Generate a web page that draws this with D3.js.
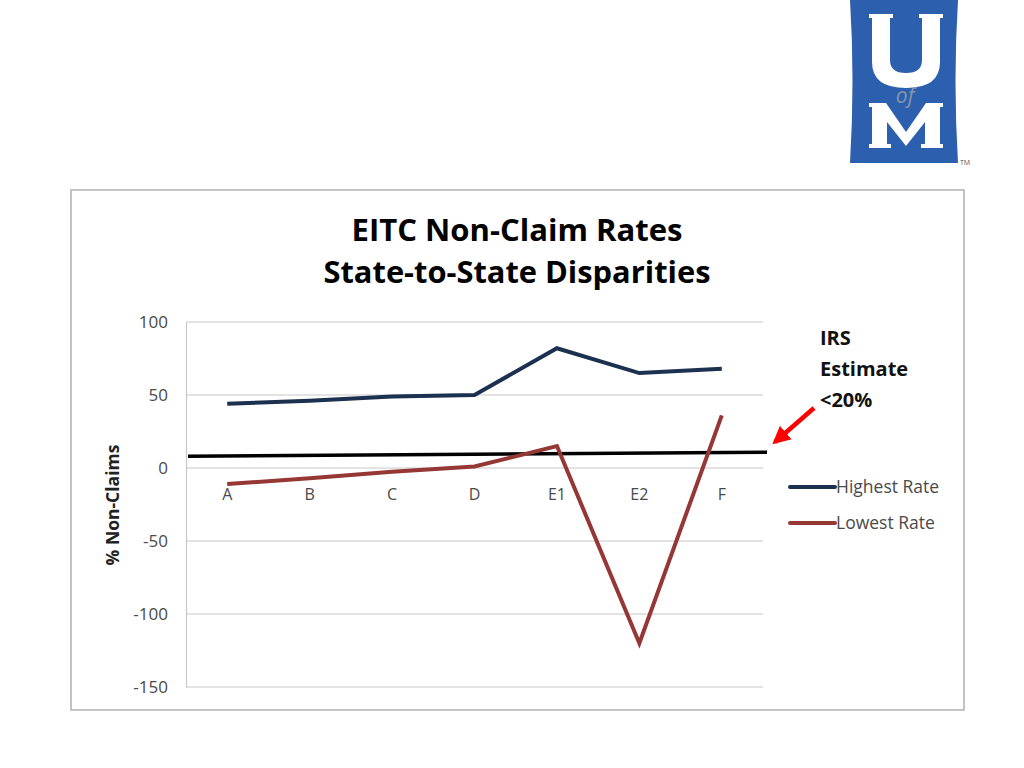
<!DOCTYPE html>
<html>
<head>
<meta charset="utf-8">
<script src="https://cdn.jsdelivr.net/npm/d3@7"></script>
<style>
  html, body { margin: 0; padding: 0; background: #fff; }
  svg { display: block; }
</style>
</head>
<body>
<svg id="chart" width="1024" height="768"></svg>
<script>
// ---- data ----
const categories = ["A", "B", "C", "D", "E1", "E2", "F"];
const highestRate = [44, 46, 49, 50, 82, 65, 68];
const lowestRate = [-11, -7, -2.5, 1, 15, -120, 36];
const irsLine = [8, 10.8];          // value at left end, right end of plot
const yTicks = [100, 50, 0, -50, -100, -150];
const titleLines = ["EITC Non-Claim Rates", "State-to-State Disparities"];
const seriesNames = ["Highest Rate", "Lowest Rate"];
const annotationLines = ["IRS", "Estimate", "<20%"];

const svg = d3.select("#chart");
const font = "'Open Sans', 'Liberation Sans', sans-serif";

// ---- logo ----
const logo = svg.append("g");
logo.append("path")
  .attr("d", "M850,0 H958 Q953,80 958,163 H850 Q855,80 850,0 Z")
  .attr("fill", "#2c5fae");
logo.append("path")
  .attr("d", "M869,14 H893 V18 H890 V60 Q890,73 906,73 Q922,73 922,60 V18 H919 V14 H943 V18 H940 V62 Q940,88 906,88 Q872,88 872,62 V18 H869 Z")
  .attr("fill", "#fff");
logo.append("path")
  .attr("d", "M869,103 H886 L906,132 L926,103 H943 V107 H940 V144 H943 V148 H921 V144 H925 V122 L906,146 L887,122 V144 H891 V148 H869 V144 H872 V107 H869 Z")
  .attr("fill", "#fff");
logo.append("text").attr("x", 905).attr("y", 103)
  .attr("text-anchor", "middle").attr("font-family", font)
  .attr("font-style", "italic").attr("font-size", 21).attr("fill", "#8796aa").text("of");
logo.append("text").attr("x", 960).attr("y", 165)
  .attr("font-family", font).attr("font-size", 7).attr("fill", "#555").text("TM");

// ---- chart frame ----
svg.append("rect").attr("x", 71).attr("y", 190).attr("width", 893).attr("height", 520)
  .attr("fill", "#fff").attr("stroke", "#b0b0b0").attr("stroke-width", 1.5);

// ---- title ----
const titleWidths = [331, 387];
titleLines.forEach((t, i) => {
  svg.append("text")
    .attr("x", 517).attr("y", 241 + i * 42)
    .attr("text-anchor", "middle")
    .attr("font-family", font).attr("font-weight", "bold")
    .attr("font-size", 30).attr("fill", "#000")
    .attr("textLength", titleWidths[i]).attr("lengthAdjust", "spacingAndGlyphs")
    .text(t);
});

// ---- scales ----
const plot = { left: 186, right: 763, top: 322, bottom: 687 };
const x = d3.scaleBand().domain(categories).range([plot.left, plot.right]);
const xc = d => x(d) + x.bandwidth() / 2;
const y = d3.scaleLinear().domain([-150, 100]).range([plot.bottom, plot.top]);

// gridlines
svg.append("g").selectAll("line").data(yTicks).join("line")
  .attr("x1", plot.left).attr("x2", plot.right)
  .attr("y1", d => y(d)).attr("y2", d => y(d))
  .attr("stroke", "#c8c8c8").attr("stroke-width", 1.2);

// y axis
const yAxis = svg.append("g").attr("transform", `translate(${plot.left},0)`)
  .call(d3.axisLeft(y).tickValues(yTicks).tickSize(0).tickPadding(18)
    .tickFormat(d => String(d)));
yAxis.select(".domain").attr("stroke", "#c8c8c8").attr("stroke-width", 1.2);
yAxis.selectAll("text").attr("font-family", font).attr("font-size", 17).attr("fill", "#4a4a4a");

// x axis labels (at zero line)
const xAxis = svg.append("g").attr("transform", `translate(0,${y(0)})`)
  .call(d3.axisBottom(x).tickSize(0).tickPadding(21));
xAxis.select(".domain").remove();
xAxis.selectAll("text").attr("font-family", font).attr("font-size", 16).attr("fill", "#4a4a4a");

// y label
svg.append("text")
  .attr("transform", "translate(119,505) rotate(-90)")
  .attr("text-anchor", "middle")
  .attr("font-family", font).attr("font-weight", "bold").attr("font-size", 17.5)
  .attr("fill", "#222").text("% Non-Claims");

// IRS line
svg.append("line")
  .attr("x1", 188).attr("x2", 767)
  .attr("y1", y(irsLine[0])).attr("y2", y(irsLine[1]))
  .attr("stroke", "#000").attr("stroke-width", 3.5);

// series
const line = d3.line().x((d, i) => xc(categories[i])).y(d => y(d));
const seriesColors = ["#1c3050", "#953735"];
[highestRate, lowestRate].forEach((s, i) => {
  svg.append("path").datum(s).attr("d", line)
    .attr("fill", "none").attr("stroke", seriesColors[i])
    .attr("stroke-width", 4).attr("stroke-linejoin", "miter");
});

// legend
seriesNames.forEach((n, i) => {
  const ly = 487 + i * 36;
  svg.append("line").attr("x1", 790).attr("x2", 835).attr("y1", ly).attr("y2", ly)
    .attr("stroke", seriesColors[i]).attr("stroke-width", 4).attr("stroke-linecap", "round");
  svg.append("text").attr("x", 836).attr("y", ly + 6)
    .attr("font-family", font).attr("font-size", 17.5).attr("fill", "#4a4a4a").text(n);
});

// annotation
annotationLines.forEach((t, i) => {
  svg.append("text").attr("x", 820).attr("y", 345 + i * 31)
    .attr("font-family", font).attr("font-weight", "bold").attr("font-size", 20)
    .attr("fill", "#111").text(t);
});
svg.append("defs").append("marker").attr("id", "ah")
  .attr("viewBox", "0 0 10 10").attr("refX", 8).attr("refY", 5)
  .attr("markerWidth", 4).attr("markerHeight", 4).attr("orient", "auto")
  .append("path").attr("d", "M0,0 L10,5 L0,10 Z").attr("fill", "#ff0000");
svg.append("line").attr("x1", 814).attr("y1", 408).attr("x2", 775).attr("y2", 442)
  .attr("stroke", "#ff0000").attr("stroke-width", 4.5).attr("marker-end", "url(#ah)");
</script>
</body>
</html>
